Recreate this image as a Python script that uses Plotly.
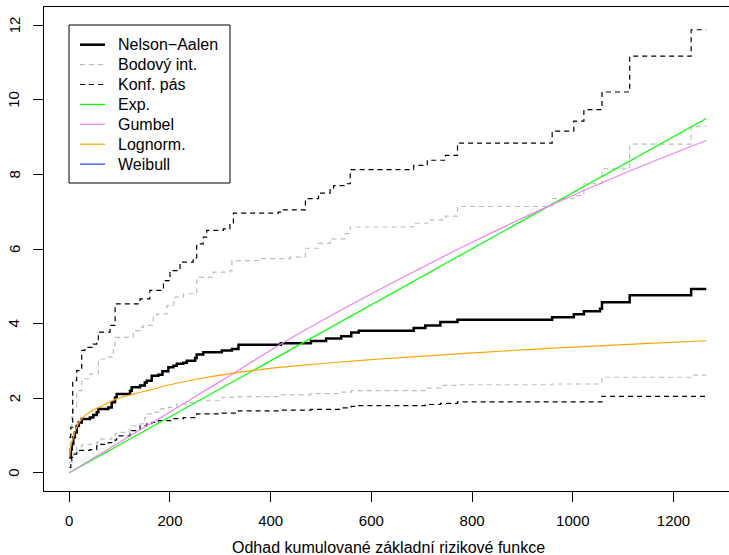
import plotly.graph_objects as go

# ---------------- data ----------------
# Nelson-Aalen cumulative hazard estimate (step function)
na_t = [0, 3, 5, 8, 11, 14.7, 19, 24.7, 41, 47.7, 54.5, 57.7, 77.5, 84.3, 90.9, 94.2,
        120.7, 124, 140.6, 150, 153.9, 163.8, 177, 185, 196.8, 206.8, 213.5, 226.6,
        233.4, 250, 253, 266, 303, 323, 336, 420, 480, 510, 540, 560, 575, 684, 707,
        737, 771, 959, 1002, 1022, 1054, 1058, 1113, 1235, 1265]
na_h = [0.41, 0.62, 0.77, 0.95, 1.08, 1.25, 1.35, 1.44, 1.48, 1.55, 1.62, 1.71, 1.75,
        1.89, 2.02, 2.11, 2.20, 2.29, 2.34, 2.42, 2.47, 2.60, 2.63, 2.72, 2.83, 2.87,
        2.92, 2.95, 3.00, 3.08, 3.17, 3.23, 3.28, 3.32, 3.43, 3.47, 3.53, 3.60, 3.66,
        3.76, 3.81, 3.88, 3.95, 4.04, 4.10, 4.17, 4.25, 4.33, 4.40, 4.57, 4.76, 4.93, 4.93]

# pointwise confidence interval (Bodový int.)
pw_up_t = [0, 2.8, 5, 8, 14.7, 24.7, 41, 57.7, 74, 87.5, 91, 127, 140.6, 147, 167, 174,
           194, 207, 210, 227, 253, 256, 286, 319, 323, 379, 439, 469, 495, 518, 548,
           558, 681, 684, 711, 747, 771, 959, 1002, 1022, 1058, 1113, 1235, 1265]
pw_up_v = [0.75, 1.04, 1.50, 1.75, 2.20, 2.52, 2.65, 3.05, 3.10, 3.36, 3.63, 3.81, 3.90,
           3.95, 4.21, 4.26, 4.48, 4.57, 4.71, 4.80, 5.20, 5.24, 5.38, 5.42, 5.69, 5.74,
           5.78, 6.02, 6.15, 6.27, 6.41, 6.59, 6.60, 6.69, 6.78, 6.88, 7.14, 7.35, 7.43,
           7.75, 8.15, 8.81, 9.29, 9.29]
pw_lo_t = [0, 5, 8, 11, 14.7, 24.7, 41, 54.5, 57.7, 84.3, 91, 94.2, 120.7, 124, 140.6,
           150, 153.9, 163.8, 177, 196.8, 213.5, 233.4, 253, 303, 336, 420, 480, 540,
           560, 707, 737, 771, 959, 1058, 1235, 1265]
pw_lo_v = [0.28, 0.45, 0.55, 0.59, 0.70, 0.75, 0.77, 0.81, 0.90, 0.99, 1.04, 1.08, 1.20,
           1.26, 1.31, 1.48, 1.58, 1.62, 1.71, 1.75, 1.84, 1.88, 1.93, 2.02, 2.04, 2.09,
           2.12, 2.16, 2.20, 2.27, 2.34, 2.36, 2.38, 2.56, 2.62, 2.62]

# confidence band (Konf. pás)
cb_up_t = [0, 2.8, 6.8, 14.7, 24.7, 31, 47.7, 54.5, 57.7, 81, 91, 140.6, 160, 187, 200,
           220, 246, 253, 266, 273, 306, 319, 326, 415, 425, 469, 495, 518, 525, 548,
           558, 684, 711, 747, 771, 959, 1002, 1022, 1058, 1113, 1235, 1265]
cb_up_v = [0.95, 1.22, 2.47, 2.74, 3.28, 3.36, 3.45, 3.54, 3.77, 3.95, 4.53, 4.66, 4.89,
           5.15, 5.42, 5.65, 5.76, 6.14, 6.32, 6.50, 6.54, 6.68, 6.96, 6.99, 7.05, 7.35,
           7.50, 7.59, 7.70, 7.75, 8.13, 8.24, 8.38, 8.51, 8.84, 9.16, 9.43, 9.74, 10.21,
           11.17, 11.88, 11.88]
cb_lo_t = [0, 3, 5, 8, 14.7, 41, 54.5, 61, 77.5, 91, 94.2, 120.7, 124, 140.6, 153.9,
           163.8, 177, 206.8, 226.6, 253, 303, 336, 420, 480, 540, 560, 575, 707, 737,
           771, 1058, 1265]
cb_lo_v = [0.14, 0.25, 0.41, 0.50, 0.60, 0.62, 0.72, 0.76, 0.81, 0.88, 0.99, 1.08, 1.13,
           1.26, 1.31, 1.35, 1.40, 1.45, 1.48, 1.58, 1.60, 1.66, 1.68, 1.70, 1.74, 1.78,
           1.80, 1.83, 1.86, 1.90, 2.05, 2.05]

# fitted parametric cumulative hazards
exp_t = [0, 1265]
exp_h = [0, 9.50]
gum_t = [0, 100, 200, 300, 439, 600, 700, 800, 942, 1100, 1265]
gum_h = [0, 0.82, 1.63, 2.45, 3.60, 4.80, 5.50, 6.18, 7.09, 8.02, 8.91]
lgn_t = [1, 2.7, 5, 8, 12, 18, 28, 40, 61, 94, 130, 160, 200, 250, 306, 370, 439, 520,
         618, 720, 820, 920, 1020, 1140, 1265]
lgn_h = [0.42, 0.68, 0.82, 0.95, 1.13, 1.31, 1.49, 1.62, 1.77, 1.98, 2.12, 2.22, 2.36,
         2.50, 2.63, 2.75, 2.85, 2.95, 3.05, 3.14, 3.23, 3.31, 3.38, 3.46, 3.54]

x_ticks = [0, 200, 400, 600, 800, 1000, 1200]
y_ticks = [0, 2, 4, 6, 8, 10, 12]

legend_names = ["Nelson\u2212Aalen", "Bodový int.", "Konf. pás", "Exp.", "Gumbel",
                "Lognorm.", "Weibull"]
legend_colors = ["black", "#BEBEBE", "black", "#00FF00", "#EE82EE", "#FFA500", "#2040FF"]
legend_dash = ["solid", "dash", "dash", "solid", "solid", "solid", "solid"]
legend_width = [2.5, 1.2, 1.2, 1.2, 1.2, 1.2, 1.2]

FONT = "Liberation Sans, Arial, Helvetica, sans-serif"
DASH = "5px,4px"

# plot-area geometry (pixels) used for placing the hand-drawn legend / labels
W, H = 729, 555
ML, MR, MT, MB = 44, 0, 7, 64
PW, PH = W - ML - MR, H - MT - MB


def px2paper_x(px):
    return (px - ML) / PW


def px2paper_y(py):
    return (H - MB - py) / PH


fig = go.Figure()
fig.add_trace(go.Scatter(x=na_t, y=na_h, mode="lines", line_shape="hv",
                         line=dict(color="black", width=2.5), name=legend_names[0]))
fig.add_trace(go.Scatter(x=pw_up_t, y=pw_up_v, mode="lines", line_shape="hv",
                         line=dict(color="#BEBEBE", width=1.2, dash=DASH), name=legend_names[1]))
fig.add_trace(go.Scatter(x=pw_lo_t, y=pw_lo_v, mode="lines", line_shape="hv",
                         line=dict(color="#BEBEBE", width=1.2, dash=DASH), name=legend_names[1]))
fig.add_trace(go.Scatter(x=cb_up_t, y=cb_up_v, mode="lines", line_shape="hv",
                         line=dict(color="black", width=1.2, dash=DASH), name=legend_names[2]))
fig.add_trace(go.Scatter(x=cb_lo_t, y=cb_lo_v, mode="lines", line_shape="hv",
                         line=dict(color="black", width=1.2, dash=DASH), name=legend_names[2]))
fig.add_trace(go.Scatter(x=exp_t, y=exp_h, mode="lines",
                         line=dict(color="#00FF00", width=1.2), name=legend_names[3]))
fig.add_trace(go.Scatter(x=gum_t, y=gum_h, mode="lines", line_shape="spline",
                         line=dict(color="#EE82EE", width=1.2), name=legend_names[4]))
fig.add_trace(go.Scatter(x=lgn_t, y=lgn_h, mode="lines", line_shape="spline",
                         line=dict(color="#FFA500", width=1.2), name=legend_names[5]))

# hand-drawn legend box (R style)
shapes = [dict(type="rect", xref="paper", yref="paper",
               x0=px2paper_x(69), x1=px2paper_x(230), y0=px2paper_y(183), y1=px2paper_y(25),
               line=dict(color="black", width=1), fillcolor="white", layer="above")]
annotations = []
for i, (nm, col, ds, lw) in enumerate(zip(legend_names, legend_colors, legend_dash, legend_width)):
    ry = 44.7 + 19.9 * i
    shapes.append(dict(type="line", xref="paper", yref="paper",
                       x0=px2paper_x(80), x1=px2paper_x(105),
                       y0=px2paper_y(ry), y1=px2paper_y(ry),
                       line=dict(color=col, width=lw, dash=(DASH if ds == "dash" else "solid")),
                       layer="above"))
    annotations.append(dict(text=nm, xref="paper", yref="paper",
                            x=px2paper_x(116), y=px2paper_y(ry), xanchor="left",
                            yanchor="middle", showarrow=False,
                            font=dict(family=FONT, size=16, color="black")))

# y tick labels, rotated like R's default (parallel to the axis)
for v in y_ticks:
    annotations.append(dict(text=str(v), xref="paper", yref="y",
                            x=px2paper_x(14), y=v, xanchor="center", yanchor="middle",
                            textangle=-90, showarrow=False,
                            font=dict(family=FONT, size=15, color="black")))

annotations.append(dict(text="Odhad kumulované základní rizikové funkce",
                        xref="paper", yref="paper", x=px2paper_x(388), y=px2paper_y(547),
                        xanchor="center", yanchor="middle", showarrow=False,
                        font=dict(family=FONT, size=16, color="black")))

fig.update_layout(
    width=W, height=H,
    margin=dict(l=ML, r=MR, t=MT, b=MB, autoexpand=False),
    paper_bgcolor="white", plot_bgcolor="white",
    font=dict(family=FONT, size=16, color="black"),
    showlegend=False,
    shapes=shapes, annotations=annotations,
)
fig.update_xaxes(range=[-50.2, 1310.2], tickvals=x_ticks, ticktext=[str(v) for v in x_ticks],
                 showline=True, mirror=True, linecolor="black", linewidth=1,
                 ticks="outside", ticklen=10, tickcolor="black", tickwidth=1,
                 showgrid=False, zeroline=False, tickfont=dict(size=15),
                 ticklabelstandoff=6, automargin=False)
fig.update_yaxes(range=[-0.49, 12.49], tickvals=y_ticks, showticklabels=False,
                 showline=True, mirror=False, linecolor="black", linewidth=1,
                 ticks="outside", ticklen=10, tickcolor="black", tickwidth=1,
                 showgrid=False, zeroline=False, automargin=False)

fig.write_html("out.html", config={"displayModeBar": False},
               post_script="document.body.style.margin='0';document.body.style.overflow='hidden';")
